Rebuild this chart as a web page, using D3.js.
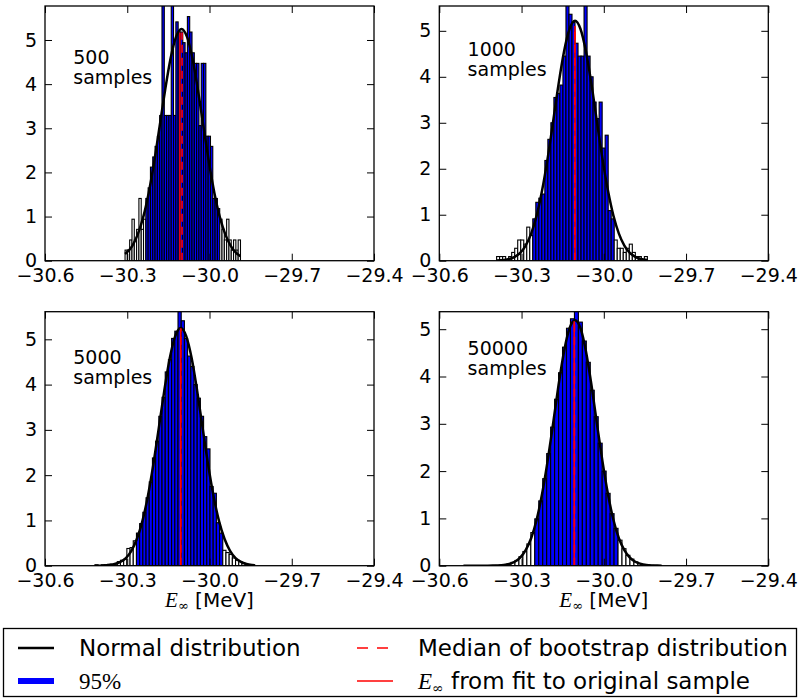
<!DOCTYPE html>
<html>
<head>
<meta charset="utf-8">
<script src="https://cdn.jsdelivr.net/npm/d3@7"></script>
<style>
  body { margin: 0; background: #fff; }
  text { font-family: "DejaVu Sans", sans-serif; fill: #000; }
</style>
</head>
<body>
<div id="container"></div>
<script>
// sample sizes of the four bootstrap runs
var sampleSizes = ["500", "1000", "5000", "50000"];

// histogram range (first and last bin edge) for each panel
var histMin = [-30.308, -30.391, -30.418, -30.512];
var histMax = [-29.887, -29.841, -29.835, -29.789];

// 95% interval, bars inside are blue
var ciLow  = [-30.232, -30.259, -30.266, -30.256];
var ciHigh = [-29.960, -29.963, -29.956, -29.953];

// normed bar heights, 50 bins each
var hist500 = [0.24, 0.24, 0.47, 0.94, 0.47, 0.71, 1.41, 0.71, 0.94, 1.41,
  1.65, 2.12, 2.35, 2.59, 2.82, 3.29, 6.5, 3.29, 3.29, 3.29,
  6.6, 3.29, 5.41, 5.18, 5.18, 4.94, 4.71, 5.53, 5.18, 4.71,
  4.47, 4.47, 3.06, 4.47, 4.47, 2.82, 2.82, 2.59, 1.41, 1.41,
  1.18, 0.94, 0.71, 0.47, 0.94, 0.47, 0.24, 0.47, 0.24, 0.47];
var hist1000 = [0.09, 0.09, 0.09, 0.0, 0.09, 0.18, 0.27, 0.45, 0.45, 0.36,
  0.73, 0.55, 0.91, 1.27, 1.36, 1.45, 2.18, 2.64, 3.0, 3.55,
  3.64, 3.82, 4.45, 6.2, 5.36, 5.18, 4.73, 4.45, 4.45, 6.0,
  4.45, 4.0, 3.45, 3.09, 3.45, 2.45, 2.73, 1.09, 0.91, 0.45,
  0.27, 0.27, 0.18, 0.27, 0.36, 0.18, 0.09, 0.09, 0.0, 0.09];
var hist5000 = [0.02, 0.0, 0.02, 0.02, 0.03, 0.03, 0.05, 0.09, 0.12, 0.14,
  0.38, 0.40, 0.55, 0.72, 0.93, 1.18, 1.50, 1.85, 2.38, 2.75,
  3.30, 3.72, 4.28, 4.55, 5.02, 5.18, 5.75, 5.41, 5.02, 4.63,
  4.40, 4.00, 3.70, 3.30, 2.85, 2.58, 1.75, 1.60, 0.95, 0.72,
  0.34, 0.29, 0.25, 0.17, 0.12, 0.09, 0.05, 0.03, 0.02, 0.02];
var hist50000 = [0, 0, 0, 0, 0.0004, 0.0007, 0.0014, 0.003, 0.0055, 0.011,
  0.021, 0.04, 0.07, 0.11, 0.19, 0.30, 0.46, 0.70, 0.99, 1.37,
  1.84, 2.37, 2.93, 3.52, 4.08, 4.62, 5.02, 5.22, 5.45, 5.15,
  4.75, 4.30, 3.71, 3.15, 2.59, 2.00, 1.53, 1.10, 0.79, 0.54,
  0.36, 0.22, 0.14, 0.08, 0.047, 0.025, 0.013, 0.007, 0.0035, 0.0017];

// fitted normal distribution
var normal500 = [[-30.308, 0.15], [-30.282, 0.33], [-30.262, 0.59], [-30.242, 0.98], [-30.222, 1.53],
  [-30.202, 2.23], [-30.182, 3.04], [-30.162, 3.86], [-30.142, 4.58], [-30.122, 5.07], [-30.102, 5.25],
  [-30.082, 5.07], [-30.062, 4.58], [-30.042, 3.86], [-30.022, 3.04], [-30.002, 2.23], [-29.982, 1.53],
  [-29.962, 0.98], [-29.942, 0.59], [-29.922, 0.33], [-29.902, 0.17], [-29.887, 0.10]];
var normal1000 = [[-30.391, 0.005], [-30.365, 0.016], [-30.345, 0.038], [-30.325, 0.084], [-30.305, 0.17],
  [-30.285, 0.33], [-30.265, 0.59], [-30.245, 0.98], [-30.225, 1.53], [-30.205, 2.22], [-30.185, 3.02],
  [-30.165, 3.84], [-30.145, 4.55], [-30.125, 5.04], [-30.105, 5.22], [-30.085, 5.04], [-30.065, 4.55],
  [-30.045, 3.84], [-30.025, 3.02], [-30.005, 2.22], [-29.985, 1.53], [-29.965, 0.98], [-29.945, 0.59],
  [-29.925, 0.33], [-29.905, 0.17], [-29.885, 0.084], [-29.865, 0.038], [-29.841, 0.013]];
var normal5000 = [[-30.418, 0.001], [-30.385, 0.006], [-30.365, 0.017], [-30.345, 0.038], [-30.325, 0.084],
  [-30.305, 0.17], [-30.285, 0.33], [-30.265, 0.59], [-30.245, 0.98], [-30.225, 1.53], [-30.205, 2.23],
  [-30.185, 3.04], [-30.165, 3.86], [-30.145, 4.58], [-30.125, 5.07], [-30.105, 5.25], [-30.085, 5.07],
  [-30.065, 4.58], [-30.045, 3.86], [-30.025, 3.04], [-30.005, 2.23], [-29.985, 1.53], [-29.965, 0.98],
  [-29.945, 0.59], [-29.925, 0.33], [-29.905, 0.17], [-29.885, 0.084], [-29.865, 0.038], [-29.845, 0.017],
  [-29.835, 0.011]];
var normal50000 = [[-30.512, 0.0], [-30.465, 0.0001], [-30.425, 0.0008], [-30.405, 0.0024], [-30.385, 0.006],
  [-30.365, 0.016], [-30.345, 0.038], [-30.325, 0.083], [-30.305, 0.17], [-30.285, 0.33], [-30.265, 0.58],
  [-30.245, 0.97], [-30.225, 1.52], [-30.205, 2.21], [-30.185, 3.00], [-30.165, 3.82], [-30.145, 4.53],
  [-30.125, 5.02], [-30.105, 5.19], [-30.085, 5.02], [-30.065, 4.53], [-30.045, 3.82], [-30.025, 3.00],
  [-30.005, 2.21], [-29.985, 1.52], [-29.965, 0.97], [-29.945, 0.58], [-29.925, 0.33], [-29.905, 0.17],
  [-29.885, 0.083], [-29.865, 0.038], [-29.845, 0.016], [-29.825, 0.006], [-29.805, 0.0024], [-29.789, 0.001]];

// median of the bootstrap distribution and value from fit to original sample
var medianValue = [-30.100, -30.106, -30.105, -30.107];
var fitValue    = [-30.108, -30.105, -30.105, -30.108];
var redTop      = [5.17, 5.10, 5.24, 5.17];

// axis limits and ticks
var yMax = [5.77, 5.54, 5.61, 5.37];
var xDomain = [-30.6, -29.4];
var xTicks = [-30.6, -30.3, -30.0, -29.7, -29.4];
var yTicks = [0, 1, 2, 3, 4, 5];

var hists = [hist500, hist1000, hist5000, hist50000];
var normals = [normal500, normal1000, normal5000, normal50000];

var W = 800, H = 700;
var svg = d3.select("#container").append("svg")
    .attr("width", W)
    .attr("height", H);

var boxes = [
  {left: 45, right: 374, top: 6, bottom: 260.7},
  {left: 439.3, right: 768.3, top: 6, bottom: 260.7},
  {left: 45, right: 374, top: 311.7, bottom: 565.7},
  {left: 439.3, right: 768.3, top: 311.7, bottom: 565.7}
];

var fmt = d3.format(".1f");

boxes.forEach(function(b, k) {
  var x = d3.scaleLinear().domain(xDomain).range([b.left, b.right]);
  var y = d3.scaleLinear().domain([0, yMax[k]]).range([b.bottom, b.top]);

  var g = svg.append("g");

  g.append("clipPath").attr("id", "clip" + k)
    .append("rect")
      .attr("x", b.left).attr("y", b.top)
      .attr("width", b.right - b.left).attr("height", b.bottom - b.top);

  var plot = g.append("g").attr("clip-path", "url(#clip" + k + ")");

  var heights = hists[k];
  var n = heights.length;
  var step = (histMax[k] - histMin[k]) / n;
  var bins = heights.map(function(h, i) {
    var x0 = histMin[k] + i * step;
    return {x0: x0, x1: x0 + step, h: h};
  });

  plot.selectAll(".bar")
      .data(bins)
    .enter().append("rect")
      .attr("class", "bar")
      .attr("x", function(d) { return x(d.x0); })
      .attr("width", function(d) { return x(d.x1) - x(d.x0); })
      .attr("y", function(d) { return y(d.h); })
      .attr("height", function(d) { return y(0) - y(d.h); })
      .attr("fill", function(d) {
        var c = (d.x0 + d.x1) / 2;
        return (c >= ciLow[k] && c <= ciHigh[k]) ? "#0000ff" : "#ffffff";
      })
      .attr("stroke", "#000")
      .attr("stroke-width", 1.1);

  var line = d3.line()
      .x(function(d) { return x(d[0]); })
      .y(function(d) { return y(d[1]); })
      .curve(d3.curveMonotoneX);

  plot.append("path")
      .datum(normals[k])
      .attr("d", line)
      .attr("fill", "none")
      .attr("stroke", "#000")
      .attr("stroke-width", 2.5);

  plot.append("line")
      .attr("x1", x(fitValue[k])).attr("x2", x(fitValue[k]))
      .attr("y1", y(0)).attr("y2", y(redTop[k]))
      .attr("stroke", "#ff0000").attr("stroke-width", 1.6);

  plot.append("line")
      .attr("x1", x(medianValue[k])).attr("x2", x(medianValue[k]))
      .attr("y1", y(0)).attr("y2", y(redTop[k]))
      .attr("stroke", "#ff0000").attr("stroke-width", 1.6)
      .attr("stroke-dasharray", "8,5");

  // ticks on all four sides, pointing inwards
  g.append("g")
      .attr("transform", "translate(0," + b.bottom + ")")
      .call(d3.axisBottom(x).tickValues(xTicks).tickSizeInner(-7).tickSizeOuter(0)
        .tickPadding(8).tickFormat(fmt))
      .call(function(a) { a.select(".domain").remove(); });
  g.append("g")
      .attr("transform", "translate(0," + b.top + ")")
      .call(d3.axisTop(x).tickValues(xTicks).tickSizeInner(-7).tickSizeOuter(0).tickFormat(""))
      .call(function(a) { a.select(".domain").remove(); });
  g.append("g")
      .attr("transform", "translate(" + b.left + ",0)")
      .call(d3.axisLeft(y).tickValues(yTicks).tickSizeInner(-7).tickSizeOuter(0)
        .tickPadding(8).tickFormat(d3.format("d")))
      .call(function(a) { a.select(".domain").remove(); });
  g.append("g")
      .attr("transform", "translate(" + b.right + ",0)")
      .call(d3.axisRight(y).tickValues(yTicks).tickSizeInner(-7).tickSizeOuter(0).tickFormat(""))
      .call(function(a) { a.select(".domain").remove(); });

  g.selectAll(".tick line").attr("stroke", "#000").attr("stroke-width", 1);
  g.selectAll(".tick text")
      .style("font-family", "'DejaVu Sans', sans-serif")
      .style("font-size", "19px");

  g.append("rect")
      .attr("x", b.left).attr("y", b.top)
      .attr("width", b.right - b.left).attr("height", b.bottom - b.top)
      .attr("fill", "none").attr("stroke", "#000").attr("stroke-width", 1.3);

  var note = g.append("text")
      .attr("x", x(-30.6 + 0.086 * 1.2))
      .attr("y", y(4.45))
      .style("font-size", "19px");
  note.append("tspan").text(sampleSizes[k]);
  note.append("tspan").attr("x", x(-30.6 + 0.086 * 1.2)).attr("dy", 20).text("samples");

  if (k >= 2) {
    var lab = g.append("text")
        .attr("x", (b.left + b.right) / 2)
        .attr("y", 607)
        .attr("text-anchor", "middle")
        .style("font-size", "20px");
    lab.append("tspan")
        .style("font-family", "'Liberation Serif', serif")
        .style("font-style", "italic")
        .style("font-size", "21px")
        .text("E");
    lab.append("tspan")
        .style("font-family", "'DejaVu Serif', serif")
        .style("font-size", "13px")
        .attr("dy", 3)
        .text("\u221e");
    lab.append("tspan")
        .attr("dy", -3)
        .text(" [MeV]");
  }
});

// legend
var legend = svg.append("g");
legend.append("rect")
    .attr("x", 3.5).attr("y", 628.5).attr("width", 793).attr("height", 68)
    .attr("fill", "#fff").attr("stroke", "#000").attr("stroke-width", 1.3);

var legendItems = [
  {x: 18, y: 648, color: "#000", width: 2.5, dash: null, label: "Normal distribution"},
  {x: 18, y: 681, color: "#0000ff", width: 6, dash: null, label: "95%"},
  {x: 357, y: 648, color: "#ff0000", width: 1.6, dash: "11,9", label: "Median of bootstrap distribution"},
  {x: 357, y: 681, color: "#ff0000", width: 1.6, dash: null, label: "from fit to original sample"}
];

legendItems.forEach(function(d, i) {
  legend.append("line")
      .attr("x1", d.x).attr("x2", d.x + 36)
      .attr("y1", d.y).attr("y2", d.y)
      .attr("stroke", d.color).attr("stroke-width", d.width)
      .attr("stroke-dasharray", d.dash);
  var t = legend.append("text")
      .attr("x", d.x + 61)
      .attr("y", d.y + 8)
      .style("font-size", "23px");
  if (i === 1) {
    t.style("font-family", "'Liberation Serif', serif").text(d.label);
  } else if (i === 3) {
    t.append("tspan")
        .style("font-family", "'Liberation Serif', serif")
        .style("font-style", "italic")
        .text("E");
    t.append("tspan")
        .style("font-family", "'DejaVu Serif', serif")
        .style("font-size", "14px")
        .attr("dy", 4)
        .text("\u221e");
    t.append("tspan")
        .attr("dy", -4)
        .text(" " + d.label);
  } else {
    t.text(d.label);
  }
});
</script>
</body>
</html>
